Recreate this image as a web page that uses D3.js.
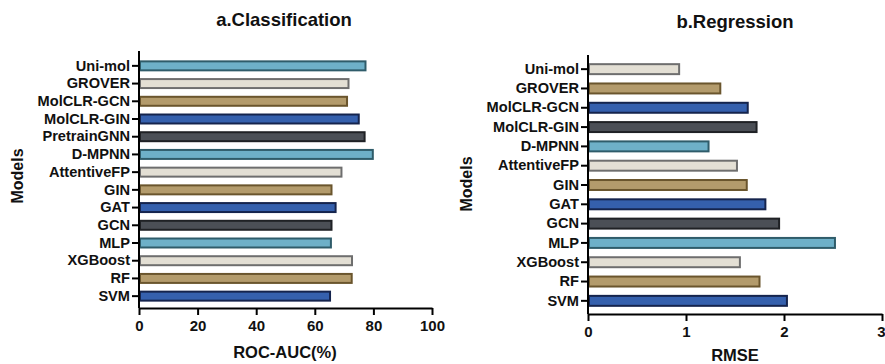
<!DOCTYPE html>
<html>
<head>
<meta charset="utf-8">
<script src="https://cdn.jsdelivr.net/npm/d3@7"></script>
<style>
  body { margin: 0; background: #fff; }
  text { font-family: "Liberation Sans", Arial, sans-serif; font-weight: bold; }
</style>
</head>
<body>
<div id="chart"></div>
<script>
// Classification models (top to bottom) and ROC-AUC (%)
const clsModels = ["Uni-mol", "GROVER", "MolCLR-GCN", "MolCLR-GIN", "PretrainGNN", "D-MPNN",
  "AttentiveFP", "GIN", "GAT", "GCN", "MLP", "XGBoost", "RF", "SVM"];
const clsValues = [77.3, 71.5, 71.0, 75.0, 77.0, 79.8, 69.1, 65.7, 67.1, 65.7, 65.5, 72.7, 72.6, 65.2];
const clsTicks = [0, 20, 40, 60, 80, 100];

// Regression models (top to bottom) and RMSE
const regModels = ["Uni-mol", "GROVER", "MolCLR-GCN", "MolCLR-GIN", "D-MPNN", "AttentiveFP",
  "GIN", "GAT", "GCN", "MLP", "XGBoost", "RF", "SVM"];
const regValues = [0.93, 1.35, 1.63, 1.72, 1.23, 1.52, 1.62, 1.81, 1.95, 2.52, 1.55, 1.75, 2.03];
const regTicks = [0, 1, 2, 3];

// fill / stroke pairs, cycled from the bottom bar upward
const fills = ["#3560ad", "#b39b6c", "#e3dfd4", "#6eb0c8", "#4b4f56"];
const strokes = ["#15244d", "#6a552d", "#6e6e6e", "#2f5c6a", "#1f2125"];

const svg = d3.select("#chart")
  .append("svg")
  .attr("width", 885)
  .attr("height", 364);

function drawPanel(opt) {
  const g = svg.append("g");
  const n = opt.models.length;

  const x = d3.scaleLinear()
    .domain(opt.domain)
    .range([opt.left, opt.right]);

  const y = d3.scaleBand()
    .domain(opt.models)
    .range([opt.bandTop, opt.bandBottom])
    .paddingInner(0.38)
    .paddingOuter(0.19);

  // bars
  g.selectAll(".bar")
    .data(opt.models)
    .enter()
    .append("rect")
    .attr("class", "bar")
    .attr("x", x(0) + 1)
    .attr("y", d => y(d) + 1)
    .attr("width", (d, i) => x(opt.values[i]) - x(0) - 1)
    .attr("height", y.bandwidth() - 2)
    .attr("fill", (d, i) => fills[(n - 1 - i) % 5])
    .attr("stroke", (d, i) => strokes[(n - 1 - i) % 5])
    .attr("stroke-width", 2);

  // y axis
  const yAxis = g.append("g")
    .attr("transform", `translate(${opt.left},0)`)
    .call(d3.axisLeft(y).tickSize(7).tickPadding(2));
  yAxis.select(".domain").remove();
  yAxis.append("line")
    .attr("x1", 0).attr("x2", 0)
    .attr("y1", opt.axisTop).attr("y2", opt.axisBottom)
    .attr("stroke", "#000").attr("stroke-width", 2);
  yAxis.selectAll(".tick line").attr("stroke-width", 2);
  yAxis.selectAll(".tick text")
    .attr("fill", "#111")
    .style("font-size", "14.6px");

  // x axis
  const xAxis = g.append("g")
    .attr("transform", `translate(0,${opt.axisBottom})`)
    .call(d3.axisBottom(x).tickValues(opt.ticks).tickFormat(d3.format("d"))
      .tickSize(7).tickSizeOuter(0).tickPadding(5));
  xAxis.select(".domain").attr("stroke-width", 2);
  xAxis.selectAll(".tick line").attr("stroke-width", 2);
  xAxis.selectAll(".tick text")
    .attr("fill", "#111")
    .style("font-size", "15px");

  // keep the last tick label inside the page when the axis runs to the edge
  if (opt.right > 870) {
    xAxis.selectAll(".tick text")
      .filter(d => d === opt.domain[1])
      .attr("text-anchor", "end")
      .attr("dx", "3");
  }

  // titles
  g.append("text")
    .attr("x", opt.titleX)
    .attr("y", opt.titleY)
    .attr("text-anchor", "middle")
    .style("font-size", "18.5px")
    .attr("fill", "#111")
    .text(opt.title);

  g.append("text")
    .attr("x", opt.xLabelX)
    .attr("y", opt.xLabelY)
    .attr("text-anchor", "middle")
    .style("font-size", "16.5px")
    .attr("fill", "#111")
    .text(opt.xLabel);

  g.append("text")
    .attr("transform", `translate(${opt.yLabelX},${opt.yLabelY}) rotate(-90)`)
    .attr("text-anchor", "middle")
    .style("font-size", "16px")
    .attr("fill", "#111")
    .text("Models");
}

drawPanel({
  models: clsModels, values: clsValues, ticks: clsTicks, domain: [0, 100],
  left: 139, right: 432, bandTop: 57, bandBottom: 305, axisTop: 51, axisBottom: 308,
  title: "a.Classification", titleX: 284, titleY: 26,
  xLabel: "ROC-AUC(%)", xLabelX: 285, xLabelY: 358,
  yLabelX: 23, yLabelY: 176
});

drawPanel({
  models: regModels, values: regValues, ticks: regTicks, domain: [0, 3],
  left: 588, right: 882, bandTop: 59.5, bandBottom: 310.5, axisTop: 55, axisBottom: 314,
  title: "b.Regression", titleX: 735, titleY: 28,
  xLabel: "RMSE", xLabelX: 735, xLabelY: 361,
  yLabelX: 472, yLabelY: 184
});
</script>
</body>
</html>
